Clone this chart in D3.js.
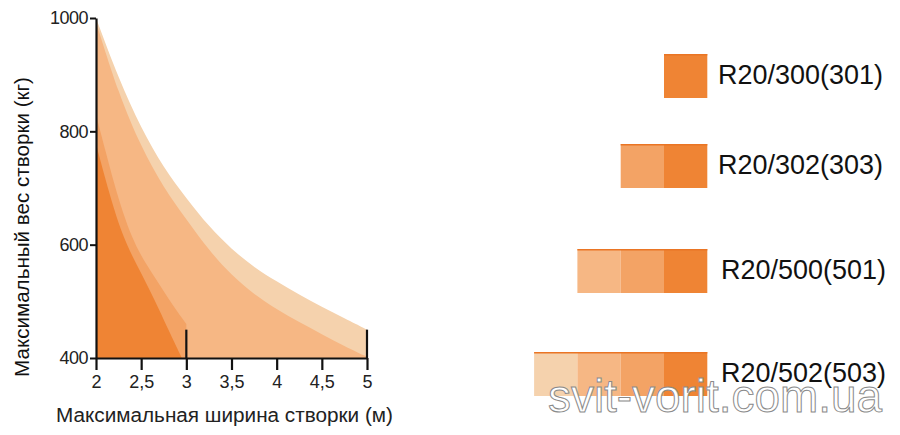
<!DOCTYPE html>
<html><head><meta charset="utf-8">
<script src="https://cdn.jsdelivr.net/npm/d3@7"></script>
<style>
html,body{margin:0;padding:0;background:#fff;}
svg text{font-family:"Liberation Sans",Arial,sans-serif;}
</style></head>
<body><svg id="c" width="900" height="435"></svg>
<script>
// ---- data ----
const xTicks = [2, 2.5, 3, 3.5, 4, 4.5, 5];
const xTickLabels = ["2", "2,5", "3", "3,5", "4", "4,5", "5"];
const yTicks = [400, 600, 800, 1000];
const yTickLabels = ["400", "600", "800", "1000"];

const seriesNames = ["R20/300(301)", "R20/302(303)", "R20/500(501)", "R20/502(503)"];
const seriesColors = ["#ef8434", "#f3a365", "#f6b784", "#f5d2ad"];

// R20/502(503) outer limit
const x502 = [2, 2.25, 2.5, 2.75, 3, 3.25, 3.5, 3.75, 4, 4.25, 4.5, 4.75, 5];
const y502 = [1000, 893, 805, 735, 682, 632, 592, 560, 535, 512, 490, 470, 450];
// R20/500(501)
const x500 = [2, 2.25, 2.5, 2.75, 3, 3.25, 3.5, 3.75, 4, 4.25, 4.5, 4.75, 5];
const y500 = [993, 866, 772, 700, 645, 590, 546, 512, 486, 463, 442, 421, 402];
// R20/302(303)
const x302 = [2, 2.1, 2.2, 2.3, 2.4, 2.5, 2.6, 2.7, 2.8, 2.9, 3];
const y302 = [830, 768, 708, 655, 612, 580, 555, 530, 505, 482, 460];
// R20/300(301)
const x300 = [2, 2.1, 2.2, 2.3, 2.4, 2.5, 2.6, 2.7, 2.8, 2.95];
const y300 = [778, 718, 662, 615, 580, 550, 518, 485, 450, 400];

// vertical limit markers on the x axis
const markerX = [3, 5];
const markerY = [450, 450];

const xTitle = "Максимальная ширина створки (м)";
const yTitle = "Максимальный вес створки (кг)";
const watermark = "svit-vorit.com.ua";

// ---- drawing ----
const svg = d3.select("#c");
const x = d3.scaleLinear().domain([2, 5]).range([96, 367]);
const y = d3.scaleLinear().domain([400, 1000]).range([358, 18]);

const area = d3.area()
  .x(d => x(d[0])).y0(y(400)).y1(d => y(d[1]))
  .curve(d3.curveBasis);

const series = [
  { xs: x502, ys: y502, c: seriesColors[3] },
  { xs: x500, ys: y500, c: seriesColors[2] },
  { xs: x302, ys: y302, c: seriesColors[1] },
  { xs: x300, ys: y300, c: seriesColors[0] }
];
series.forEach(s => {
  const pts = s.xs.map((v, i) => [v, s.ys[i]]);
  svg.append("path").attr("d", area(pts)).attr("fill", s.c);
});

// axes
const gx = svg.append("g").attr("transform", `translate(0,${y(400)})`)
  .call(d3.axisBottom(x).tickValues(xTicks).tickFormat((d, i) => xTickLabels[i])
    .tickSize(12).tickSizeOuter(0).tickPadding(5));
gx.select(".domain").attr("stroke", "#111").attr("stroke-width", 2.2);
gx.selectAll(".tick line").attr("stroke", "#111").attr("stroke-width", 2.2);
gx.selectAll(".tick text").attr("fill", "#222").style("font-size", "18px");

const gy = svg.append("g").attr("transform", `translate(${x(2)},0)`)
  .call(d3.axisLeft(y).tickValues(yTicks).tickFormat((d, i) => yTickLabels[i])
    .tickSize(6).tickSizeOuter(0).tickPadding(2));
gy.select(".domain").attr("stroke", "#111").attr("stroke-width", 2.2);
gy.selectAll(".tick line").attr("stroke", "#111").attr("stroke-width", 2);
gy.selectAll(".tick text").attr("fill", "#222").style("font-size", "18px")
  .style("letter-spacing", "-0.5px");

// limit markers
markerX.forEach((mx, i) => {
  svg.append("line").attr("x1", x(mx)).attr("x2", x(mx))
    .attr("y1", y(400)).attr("y2", y(markerY[i]))
    .attr("stroke", "#111").attr("stroke-width", 2.2);
});

function fitText(t, w) {
  const len = t.node().getComputedTextLength();
  const fs = parseFloat(t.style("font-size"));
  t.style("font-size", (fs * w / len) + "px");
}

const xt = svg.append("text").attr("x", 56).attr("y", 422).attr("fill", "#222")
  .style("font-size", "18px").text(xTitle);
fitText(xt, 337);

const yt = svg.append("text").attr("transform", "translate(29,227) rotate(-90)")
  .attr("text-anchor", "middle").attr("fill", "#111")
  .style("font-size", "18px").text(yTitle);
fitText(yt, 300);

// legend
const legendTop = [54, 144, 249, 352];
const legendTextX = [718, 718, 721, 721];
const cw = 43.3, ch = 44, right = 707.3;
seriesNames.forEach((name, i) => {
  const n = i + 1;
  for (let k = 0; k < n; k++) {
    const c = seriesColors[n - 1 - k];
    svg.append("rect")
      .attr("x", right - (n - k) * cw).attr("y", legendTop[i])
      .attr("width", cw).attr("height", ch)
      .attr("fill", c);
  }
  svg.append("rect").attr("x", right - n * cw).attr("y", legendTop[i])
    .attr("width", n * cw).attr("height", 1.5).attr("fill", "#ea7524");
  const t = svg.append("text").attr("x", legendTextX[i]).attr("y", legendTop[i] + ch / 2 + 8)
    .attr("fill", "#111").style("font-size", "26px").text(name);
  fitText(t, 165);
});

// watermark
const wm = svg.append("text").attr("x", 548).attr("y", 412)
  .attr("fill", "#fff").attr("stroke", "#8a8a8a").attr("stroke-width", 1)
  .style("font-size", "44px").text(watermark);
fitText(wm, 334);
</script></body></html>
